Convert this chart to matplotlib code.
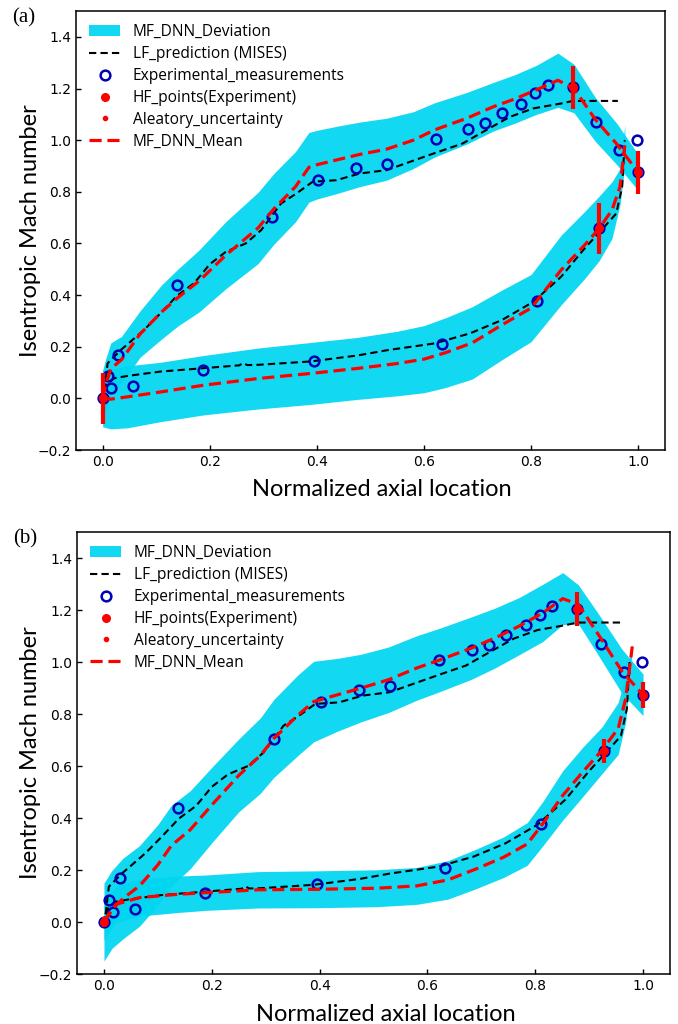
import numpy as np
import matplotlib.pyplot as plt
from matplotlib.lines import Line2D
from matplotlib.patches import Patch

# experimental isentropic Mach number (same for both cases)
exp_x = [0.0, 0.009, 0.016, 0.029, 0.057, 0.138, 0.187, 0.316, 0.395, 0.402, 0.473,
         0.530, 0.622, 0.633, 0.682, 0.714, 0.745, 0.782, 0.808, 0.811, 0.832,
         0.878, 0.922, 0.927, 0.965, 0.998, 1.0]
exp_y = [0.0, 0.086, 0.039, 0.168, 0.049, 0.439, 0.110, 0.703, 0.146, 0.845, 0.893,
         0.908, 1.006, 0.209, 1.045, 1.066, 1.106, 1.141, 1.181, 0.377, 1.215,
         1.204, 1.070, 0.658, 0.961, 1.0, 0.875]

# high fidelity points and their aleatory uncertainty
hf_x = [0.0, 0.878, 0.927, 1.0]
hf_y = [0.0, 1.204, 0.658, 0.875]
unc_a = [0.10, 0.085, 0.10, 0.082]
unc_b = [0.02, 0.065, 0.047, 0.05]

# MISES low fidelity prediction
lf_up_x = [0.003, 0.009, 0.034, 0.077, 0.108, 0.139, 0.171, 0.2, 0.23, 0.267, 0.296,
           0.333, 0.362, 0.392, 0.436, 0.48, 0.53, 0.583, 0.627, 0.672, 0.716, 0.76,
           0.804, 0.856, 0.878, 0.92, 0.962]
lf_up_y = [0.03, 0.136, 0.188, 0.265, 0.33, 0.398, 0.447, 0.52, 0.568, 0.6, 0.652,
           0.755, 0.794, 0.839, 0.845, 0.871, 0.884, 0.923, 0.955, 0.987, 1.039, 1.09,
           1.123, 1.142, 1.152, 1.152, 1.152]
lf_lo_x = [0.003, 0.009, 0.021, 0.046, 0.108, 0.188, 0.255, 0.262, 0.27, 0.29, 0.388,
           0.475, 0.532, 0.62, 0.686, 0.745, 0.804, 0.856, 0.9, 0.937, 0.959, 0.97, 0.975]
lf_lo_y = [0.03, 0.058, 0.078, 0.087, 0.104, 0.117, 0.128, 0.137, 0.129, 0.13, 0.143,
           0.166, 0.187, 0.213, 0.252, 0.303, 0.374, 0.471, 0.581, 0.665, 0.716, 0.82, 1.0]

# MF-DNN prediction, case (a)
up_x_a = [0.0, 0.005, 0.015, 0.035, 0.07, 0.11, 0.14, 0.18, 0.23, 0.29, 0.32, 0.36,
          0.385, 0.40, 0.44, 0.48, 0.53, 0.58, 0.62, 0.68, 0.73, 0.77, 0.81, 0.85,
          0.88, 0.92, 0.96, 1.0]
up_mean_a = [0.0, 0.05, 0.115, 0.15, 0.25, 0.335, 0.39, 0.455, 0.555, 0.66, 0.735, 0.82,
             0.895, 0.905, 0.925, 0.945, 0.965, 1.0, 1.04, 1.085, 1.13, 1.16, 1.195, 1.232,
             1.2, 1.08, 0.985, 0.875]
up_sd_a = [0.11, 0.10, 0.10, 0.09, 0.09, 0.105, 0.11, 0.12, 0.13, 0.138, 0.137, 0.136,
           0.135, 0.133, 0.13, 0.125, 0.12, 0.11, 0.105, 0.10, 0.094, 0.094, 0.095, 0.105,
           0.094, 0.085, 0.08, 0.07]
lo_x_a = [0.0, 0.015, 0.046, 0.108, 0.188, 0.29, 0.39, 0.475, 0.55, 0.6, 0.64, 0.69,
          0.745, 0.8, 0.856, 0.9, 0.927, 0.951, 0.966, 0.975]
lo_mean_a = [0.0, -0.003, 0.006, 0.025, 0.051, 0.077, 0.097, 0.116, 0.135, 0.152, 0.177,
             0.215, 0.284, 0.35, 0.497, 0.594, 0.658, 0.729, 0.82, 0.98]
lo_sd_a = [0.11, 0.115, 0.12, 0.115, 0.115, 0.118, 0.12, 0.12, 0.125, 0.13, 0.135, 0.14,
           0.135, 0.13, 0.135, 0.13, 0.125, 0.11, 0.07, 0.08]

# MF-DNN prediction, case (b)
up_x_b = [0.0, 0.015, 0.035, 0.066, 0.1, 0.125, 0.16, 0.2, 0.25, 0.29, 0.315, 0.36,
          0.389, 0.433, 0.477, 0.528, 0.58, 0.624, 0.682, 0.726, 0.77, 0.814, 0.851,
          0.88, 0.917, 0.961, 1.0]
up_mean_b = [0.0, 0.049, 0.09, 0.139, 0.22, 0.294, 0.355, 0.45, 0.564, 0.64, 0.706,
             0.796, 0.848, 0.874, 0.9, 0.932, 0.977, 1.009, 1.054, 1.093, 1.138, 1.189,
             1.244, 1.222, 1.106, 0.964, 0.874]
up_sd_b = [0.15, 0.15, 0.155, 0.155, 0.155, 0.155, 0.15, 0.145, 0.14, 0.145, 0.15,
           0.155, 0.155, 0.14, 0.13, 0.126, 0.124, 0.122, 0.12, 0.115, 0.11, 0.11, 0.1,
           0.075, 0.08, 0.085, 0.08]
lo_x_b = [0.0, 0.022, 0.066, 0.139, 0.19, 0.286, 0.396, 0.506, 0.58, 0.638, 0.69, 0.741,
          0.785, 0.814, 0.851, 0.888, 0.924, 0.954, 0.968, 0.98]
lo_mean_b = [0.0, 0.068, 0.094, 0.107, 0.113, 0.124, 0.126, 0.13, 0.139, 0.162, 0.204,
             0.249, 0.3, 0.378, 0.487, 0.577, 0.661, 0.745, 0.861, 1.06]
lo_sd_b = [0.07, 0.07, 0.071, 0.07, 0.068, 0.07, 0.071, 0.071, 0.071, 0.074, 0.076,
           0.078, 0.082, 0.085, 0.095, 0.095, 0.09, 0.1, 0.09, 0.01]

band_color = '#00d6f0'
band_alpha = 0.93
exp_color = '#0000b4'


def draw_panel(ax, up, lo, unc, tag):
    for x, m, s in (up, lo):
        m = np.array(m)
        s = np.array(s)
        ax.fill_between(x, m - s, m + s, color=band_color, alpha=band_alpha, lw=0)

    ax.plot(lf_up_x, lf_up_y, color='k', ls='--', lw=1.5, dashes=(3.5, 2))
    ax.plot(lf_lo_x, lf_lo_y, color='k', ls='--', lw=1.5, dashes=(3.5, 2))

    ax.plot(exp_x, exp_y, 'o', ms=7, mfc='none', mec=exp_color, mew=1.8)
    ax.plot(hf_x, hf_y, 'o', ms=5.5, color='red', mec='red')
    ax.vlines(hf_x, np.array(hf_y) - unc, np.array(hf_y) + unc, color='red', lw=3)

    for x, m, s in (up, lo):
        ax.plot(x, m, color='red', lw=2.3, dashes=(3.8, 1.8))

    handles = [
        Patch(facecolor=band_color, alpha=band_alpha, edgecolor='none'),
        Line2D([], [], color='k', lw=1.5, dashes=(3.5, 2)),
        Line2D([], [], ls='none', marker='o', ms=7, mfc='none', mec=exp_color, mew=1.8),
        Line2D([], [], ls='none', marker='o', ms=5.5, color='red'),
        Line2D([], [], ls='none', marker='o', ms=3, color='red'),
        Line2D([], [], color='red', lw=2.3, dashes=(3.8, 1.8)),
    ]
    labels = ['MF_DNN_Deviation', 'LF_prediction (MISES)', 'Experimental_measurements',
              'HF_points(Experiment)', 'Aleatory_uncertainty', 'MF_DNN_Mean']
    ax.legend(handles, labels, loc='upper left', frameon=False, handlelength=2.0,
              handletextpad=0.8, labelspacing=0.38, borderaxespad=0.45,
              prop={'family': 'Open Sans', 'size': 11.2})

    ax.set_xlim(-0.05, 1.05)
    ax.set_ylim(-0.2, 1.5)
    ax.set_xticks([0.0, 0.2, 0.4, 0.6, 0.8, 1.0])
    ax.set_yticks([-0.2, 0.0, 0.2, 0.4, 0.6, 0.8, 1.0, 1.2, 1.4])
    ax.tick_params(direction='in', length=3.5, width=1, labelsize=10)
    for sp in ax.spines.values():
        sp.set_linewidth(1.1)

    ax.set_xlabel('Normalized axial location', family='Lato', fontsize=17)
    ax.set_ylabel('Isentropic Mach number', family='Lato', fontsize=17)
    ax.xaxis.set_label_coords(0.52, -0.091)
    ax.xaxis.label.set_va('center')
    ax.yaxis.set_label_coords(-0.078, 0.5)
    ax.yaxis.label.set_va('center')

    ax.text(-0.088, 0.985, tag, transform=ax.transAxes, family='Liberation Serif',
            fontsize=15, ha='center', va='center')


fig = plt.figure(figsize=(6.78, 10.24), dpi=100)
ax_a = fig.add_axes([0.1121, 0.5605, 0.8687, 0.4287])
ax_b = fig.add_axes([0.1136, 0.0488, 0.8746, 0.4316])

draw_panel(ax_a, (up_x_a, up_mean_a, up_sd_a), (lo_x_a, lo_mean_a, lo_sd_a),
           np.array(unc_a), '(a)')
draw_panel(ax_b, (up_x_b, up_mean_b, up_sd_b), (lo_x_b, lo_mean_b, lo_sd_b),
           np.array(unc_b), '(b)')

fig.savefig('out.png', dpi=100)
